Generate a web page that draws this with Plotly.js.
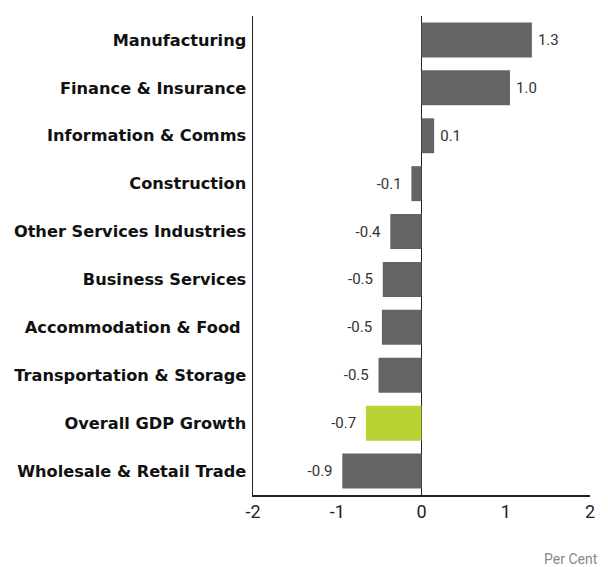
<!DOCTYPE html>
<html><head><meta charset="utf-8">
<script src="https://cdn.plot.ly/plotly-3.0.1.min.js"></script>
<style>body{margin:0;background:#fff}#chart{width:608px;height:567px}</style>
</head><body><div id="chart"></div>
<script>
const categories = ["Manufacturing","Finance & Insurance","Information & Comms","Construction","Other Services Industries","Business Services","Accommodation & Food ","Transportation & Storage","Overall GDP Growth","Wholesale & Retail Trade"];
const values = [1.31, 1.05, 0.15, -0.12, -0.37, -0.46, -0.47, -0.51, -0.66, -0.94];
const valueLabels = ["1.3","1.0","0.1","-0.1","-0.4","-0.5","-0.5","-0.5","-0.7","-0.9"];
const xTicks = [-2, -1, 0, 1, 2];
const highlight = "Overall GDP Growth";

const colors = categories.map(c => c === highlight ? "#b7d334" : "#636466");
const padded = valueLabels.map((t, i) => values[i] < 0 ? t + "\u00a0\u2009" : "\u2009" + t);

Plotly.newPlot("chart", [{
  type: "bar", orientation: "h",
  y: categories, x: values,
  text: padded, textposition: "outside", cliponaxis: false,
  textfont: {family: "Roboto, sans-serif", size: 15, color: "#333"},
  marker: {color: colors}, width: 0.73, hoverinfo: "none"
}], {
  width: 608, height: 567,
  margin: {l: 253, r: 18, t: 16, b: 72},
  paper_bgcolor: "#fff", plot_bgcolor: "#fff",
  showlegend: false,
  font: {family: "Roboto, sans-serif"},
  xaxis: {range: [-2, 2], tickvals: xTicks, ticktext: xTicks.map(String),
    showgrid: false, zeroline: true, zerolinecolor: "#222", zerolinewidth: 1.5,
    showline: true, linecolor: "#222", linewidth: 1.5, ticks: "",
    tickfont: {size: 18, color: "#222"}, fixedrange: true},
  yaxis: {autorange: "reversed", showgrid: false, zeroline: false,
    showline: true, linecolor: "#222", linewidth: 1.5, ticks: "", ticklabelstandoff: 2,
    tickfont: {family: "DejaVu Sans, sans-serif", size: 16.2, color: "#111", weight: "bold"}, fixedrange: true},
  annotations: [{text: "Per Cent", xref: "paper", yref: "paper", x: 1.03, y: -0.133,
    xanchor: "right", yanchor: "middle", showarrow: false,
    font: {size: 14, color: "#888"}}]
}, {staticPlot: true});
</script></body></html>
